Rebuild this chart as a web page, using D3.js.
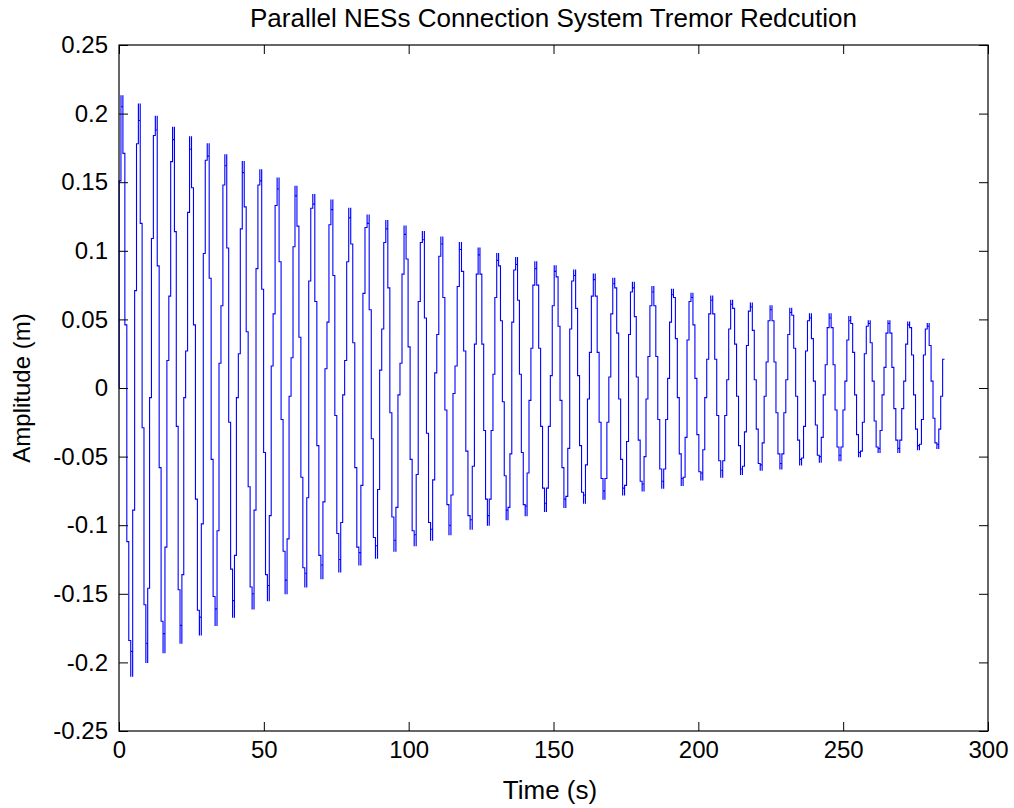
<!DOCTYPE html>
<html lang="en">
<head>
<meta charset="UTF-8" />
<title>Parallel NESs Connection System Tremor Redcution</title>
<script src="https://d3js.org/d3.v7.min.js"></script>
<style>
  * { margin: 0; padding: 0; box-sizing: border-box; }
  body { background: #fff; width: 1014px; height: 808px; overflow: hidden; }
  svg { display: block; font-family: "Liberation Sans", Arial, sans-serif; }
</style>
</head>
<body>
<svg width="1014" height="808"></svg>
<script>
// ---- data ----
// start time (s) of each oscillation cycle
var cycleStart = [0.0, 5.4, 11.2, 17.2, 23.0, 29.1, 35.2, 41.2, 47.3, 53.2,
    59.4, 65.5, 71.8, 77.9, 84.2, 90.7, 97.0, 103.3, 109.7, 116.0,
    122.7, 129.1, 135.6, 142.2, 148.9, 155.6, 162.4, 169.1, 175.9, 182.6,
    189.4, 196.1, 202.9, 209.8, 216.6, 223.4, 230.2, 237.0, 243.8, 250.6,
    257.3, 264.1, 270.9, 277.7];
var endTime = 285.0;

// held amplitude levels (m) inside each cycle, equal hold time per level;
// a 3-element entry is a held level with a short spike at each end [spike, hold, spike]
var cycleLevels = [
  [0.151, [0.213, 0.205, 0.213], 0.171, 0.046, -0.112, -0.184, [-0.210, -0.192, -0.210], -0.089],
  [0.071, 0.178, [0.207, 0.195, 0.207], 0.120, -0.029, -0.158, [-0.200, -0.186, -0.200], -0.146, -0.007],
  [0.109, 0.184, [0.198, 0.188, 0.198], 0.089, -0.058, -0.170, [-0.193, -0.179, -0.193], -0.116, 0.020],
  [0.067, 0.165, [0.190, 0.181, 0.190], 0.114, -0.028, -0.147, [-0.186, -0.173, -0.186], -0.136, -0.007],
  [0.027, 0.128, [0.183, 0.174, 0.183], 0.146, 0.046, -0.081, -0.162, [-0.180, -0.167, -0.180], -0.099],
  [0.098, 0.166, [0.178, 0.169, 0.178], 0.080, -0.052, -0.152, [-0.173, -0.161, -0.173], -0.104, 0.018],
  [0.060, 0.148, [0.170, 0.162, 0.170], 0.102, -0.025, -0.132, [-0.167, -0.155, -0.167], -0.122, -0.007],
  [0.025, 0.116, [0.165, 0.157, 0.165], 0.132, 0.041, -0.072, -0.145, [-0.161, -0.150, -0.161], -0.089],
  [0.087, 0.148, [0.159, 0.151, 0.159], 0.072, -0.047, -0.136, [-0.155, -0.144, -0.155], -0.093, 0.016],
  [0.054, 0.133, [0.153, 0.145, 0.153], 0.092, -0.023, -0.119, [-0.150, -0.140, -0.150], -0.110, -0.006],
  [0.022, 0.103, [0.147, 0.140, 0.147], 0.118, 0.037, -0.065, -0.131, [-0.145, -0.135, -0.145], -0.080],
  [0.078, 0.131, [0.141, 0.134, 0.141], 0.063, -0.042, -0.122, [-0.139, -0.129, -0.139], -0.083, 0.014],
  [0.048, 0.119, [0.137, 0.130, 0.137], 0.082, -0.020, -0.106, [-0.134, -0.125, -0.134], -0.098, -0.005],
  [0.020, 0.092, [0.131, 0.124, 0.131], 0.105, 0.033, -0.058, -0.116, [-0.129, -0.120, -0.129], -0.071],
  [0.069, 0.117, [0.126, 0.120, 0.126], 0.057, -0.037, -0.109, [-0.124, -0.115, -0.124], -0.074, 0.013],
  [0.043, 0.106, [0.122, 0.116, 0.122], 0.073, -0.018, -0.094, [-0.119, -0.111, -0.119], -0.087, -0.005],
  [0.018, 0.083, [0.118, 0.112, 0.118], 0.094, 0.030, -0.052, -0.104, [-0.115, -0.107, -0.115], -0.063],
  [0.063, 0.106, [0.114, 0.108, 0.114], 0.051, -0.033, -0.098, [-0.111, -0.103, -0.111], -0.067, 0.011],
  [0.039, 0.096, [0.110, 0.105, 0.110], 0.066, -0.016, -0.085, [-0.107, -0.100, -0.107], -0.078, -0.004],
  [0.016, 0.074, [0.106, 0.101, 0.106], 0.085, 0.027, -0.046, -0.093, [-0.103, -0.096, -0.103], -0.057],
  [0.032, 0.083, [0.102, 0.097, 0.102], 0.083, 0.032, -0.031, -0.081, [-0.100, -0.093, -0.100], -0.081, -0.031],
  [0.010, 0.066, [0.098, 0.093, 0.098], 0.089, 0.049, -0.010, -0.064, [-0.096, -0.089, -0.096], -0.087, -0.048],
  [0.048, 0.086, [0.095, 0.090, 0.095], 0.064, 0.010, -0.047, -0.085, [-0.093, -0.086, -0.093], -0.062, -0.009],
  [0.029, 0.075, [0.092, 0.087, 0.092], 0.075, 0.029, -0.028, -0.073, [-0.090, -0.084, -0.090], -0.073, -0.028],
  [0.009, 0.060, [0.089, 0.085, 0.089], 0.081, 0.045, -0.009, -0.058, [-0.087, -0.081, -0.087], -0.079, -0.044],
  [0.043, 0.078, [0.086, 0.082, 0.086], 0.058, 0.009, -0.042, -0.076, [-0.084, -0.078, -0.084], -0.056, -0.008],
  [0.026, 0.067, [0.083, 0.079, 0.083], 0.067, 0.026, -0.025, -0.066, [-0.081, -0.075, -0.081], -0.066, -0.025],
  [0.008, 0.054, [0.080, 0.076, 0.080], 0.073, 0.040, -0.008, -0.052, [-0.078, -0.073, -0.078], -0.071, -0.039],
  [0.039, 0.070, [0.077, 0.073, 0.077], 0.052, 0.008, -0.038, -0.068, [-0.075, -0.070, -0.075], -0.050, -0.008],
  [0.023, 0.060, [0.074, 0.070, 0.074], 0.060, 0.023, -0.023, -0.059, [-0.073, -0.068, -0.073], -0.059, -0.023],
  [0.007, 0.048, [0.072, 0.068, 0.072], 0.066, 0.036, -0.007, -0.048, [-0.071, -0.066, -0.071], -0.065, -0.036],
  [0.035, 0.063, [0.069, 0.066, 0.069], 0.046, 0.007, -0.034, -0.061, [-0.067, -0.062, -0.067], -0.045, -0.007],
  [0.021, 0.054, [0.067, 0.064, 0.067], 0.054, 0.021, -0.020, -0.053, [-0.065, -0.060, -0.065], -0.053, -0.020],
  [0.006, 0.043, [0.064, 0.061, 0.064], 0.058, 0.032, -0.006, -0.042, [-0.063, -0.059, -0.063], -0.057, -0.032],
  [0.031, 0.056, [0.062, 0.059, 0.062], 0.042, 0.006, -0.030, -0.055, [-0.060, -0.056, -0.060], -0.040, -0.006],
  [0.019, 0.049, [0.060, 0.057, 0.060], 0.049, 0.019, -0.018, -0.048, [-0.059, -0.055, -0.059], -0.048, -0.018],
  [0.006, 0.039, [0.058, 0.055, 0.058], 0.053, 0.029, -0.006, -0.038, [-0.056, -0.052, -0.056], -0.051, -0.028],
  [0.027, 0.049, [0.054, 0.051, 0.054], 0.036, 0.005, -0.027, -0.049, [-0.054, -0.050, -0.054], -0.036, -0.005],
  [0.017, 0.044, [0.054, 0.051, 0.054], 0.044, 0.017, -0.016, -0.043, [-0.053, -0.049, -0.053], -0.043, -0.016],
  [0.005, 0.035, [0.052, 0.049, 0.052], 0.047, 0.026, -0.005, -0.034, [-0.050, -0.047, -0.050], -0.046, -0.025],
  [0.025, 0.045, [0.049, 0.047, 0.049], 0.033, 0.005, -0.024, -0.043, [-0.047, -0.044, -0.047], -0.031, -0.005],
  [0.015, 0.040, [0.049, 0.047, 0.049], 0.040, 0.015, -0.015, -0.038, [-0.047, -0.044, -0.047], -0.038, -0.015],
  [0.005, 0.032, [0.048, 0.046, 0.048], 0.044, 0.024, -0.005, -0.030, [-0.045, -0.042, -0.045], -0.041, -0.023],
  [0.024, 0.043, [0.047, 0.045, 0.047], 0.031, 0.005, -0.022, -0.040, [-0.044, -0.041, -0.044], -0.030, -0.006, 0.021]
];

var xTicks = [0, 50, 100, 150, 200, 250, 300];
var xTickLabels = ["0", "50", "100", "150", "200", "250", "300"];
var yTicks = [-0.25, -0.2, -0.15, -0.1, -0.05, 0, 0.05, 0.1, 0.15, 0.2, 0.25];
var yTickLabels = ["-0.25", "-0.2", "-0.15", "-0.1", "-0.05", "0", "0.05", "0.1", "0.15", "0.2", "0.25"];

var titleText = "Parallel NESs Connection System Tremor Redcution";
var xLabel = "Time (s)";
var yLabel = "Amplitude (m)";

// ---- layout ----
var plotLeft = 119, plotRight = 988, plotTop = 45, plotBottom = 731;
var tickLen = 9;

var svg = d3.select("svg");

var xScale = d3.scaleLinear().domain([0, 300]).range([plotLeft, plotRight]);
var yScale = d3.scaleLinear().domain([-0.25, 0.25]).range([plotBottom, plotTop]);

// build the zero-order-hold point list from the cycles
var points = [[0, 0]];
var eps = 0.02;
cycleLevels.forEach(function(levels, k) {
    var t0 = cycleStart[k];
    var t1 = k + 1 < cycleStart.length ? cycleStart[k + 1] : endTime;
    var dur = (t1 - t0) / levels.length;
    levels.forEach(function(lv, i) {
        var ts = t0 + i * dur;
        if (k === 0 && i === 0) ts = 0.05; // signal leaves zero right at t = 0
        if (Array.isArray(lv)) {
            points.push([ts, lv[0]]);
            points.push([ts + eps, lv[1]]);
            points.push([t0 + (i + 1) * dur - eps, lv[2]]);
        } else {
            points.push([ts, lv]);
        }
    });
});
var lastLevel = cycleLevels[cycleLevels.length - 1];
points.push([endTime, lastLevel[lastLevel.length - 1]]);

var line = d3.line()
    .x(function(d) { return xScale(d[0]); })
    .y(function(d) { return yScale(d[1]); })
    .curve(d3.curveStepAfter);

svg.append("path")
    .datum(points)
    .attr("d", line)
    .attr("fill", "none")
    .attr("stroke", "#0000ff")
    .attr("stroke-width", 1.1);

// axes, ticks pointing inward on all four sides
function styleAxis(g) {
    g.select(".domain").remove();
    g.selectAll(".tick line").attr("stroke", "#000");
    g.selectAll("text")
        .attr("fill", "#000")
        .attr("font-size", "24px")
        .attr("font-family", "'Liberation Sans', Arial, sans-serif");
}

svg.append("g")
    .attr("transform", "translate(0," + plotBottom + ")")
    .call(d3.axisBottom(xScale).tickValues(xTicks)
        .tickFormat(function(d, i) { return xTickLabels[i]; })
        .tickSizeInner(-tickLen).tickSizeOuter(0).tickPadding(10))
    .call(styleAxis);

svg.append("g")
    .attr("transform", "translate(0," + plotTop + ")")
    .call(d3.axisTop(xScale).tickValues(xTicks).tickFormat("")
        .tickSizeInner(-tickLen).tickSizeOuter(0))
    .call(styleAxis);

svg.append("g")
    .attr("transform", "translate(" + plotLeft + ",0)")
    .call(d3.axisLeft(yScale).tickValues(yTicks)
        .tickFormat(function(d, i) { return yTickLabels[i]; })
        .tickSizeInner(-tickLen).tickSizeOuter(0).tickPadding(11))
    .call(styleAxis);

svg.append("g")
    .attr("transform", "translate(" + plotRight + ",0)")
    .call(d3.axisRight(yScale).tickValues(yTicks).tickFormat("")
        .tickSizeInner(-tickLen).tickSizeOuter(0))
    .call(styleAxis);

// plot box
svg.append("rect")
    .attr("x", plotLeft)
    .attr("y", plotTop)
    .attr("width", plotRight - plotLeft)
    .attr("height", plotBottom - plotTop)
    .attr("fill", "none")
    .attr("stroke", "#000")
    .attr("stroke-width", 1.2);

// title and labels
svg.append("text")
    .attr("x", (plotLeft + plotRight) / 2)
    .attr("y", 27)
    .attr("text-anchor", "middle")
    .attr("font-size", "26px")
    .attr("fill", "#000")
    .text(titleText);

svg.append("text")
    .attr("x", 550)
    .attr("y", 799)
    .attr("text-anchor", "middle")
    .attr("font-size", "26px")
    .attr("fill", "#000")
    .text(xLabel);

svg.append("text")
    .attr("transform", "rotate(-90)")
    .attr("x", -(plotTop + plotBottom) / 2)
    .attr("y", 30)
    .attr("text-anchor", "middle")
    .attr("font-size", "24px")
    .attr("fill", "#000")
    .text(yLabel);
</script>
</body>
</html>
